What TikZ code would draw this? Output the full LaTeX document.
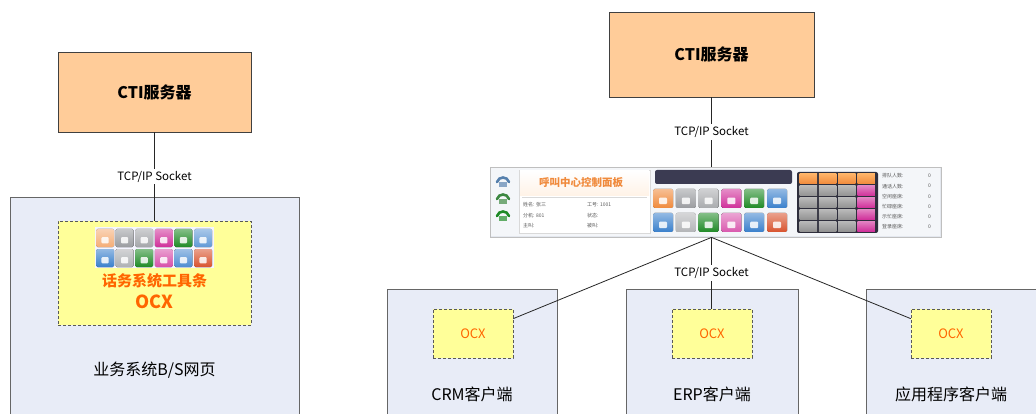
\documentclass[tikz,border=0pt]{standalone}
\usepackage{fontspec}
\setmainfont{Noto Sans CJK SC}
\usetikzlibrary{calc}

\definecolor{peach}{HTML}{FFCC99}
\definecolor{pagebg}{HTML}{E8ECF7}
\definecolor{ocxbg}{HTML}{FFFF99}
\definecolor{ocxtext}{HTML}{FF6600}
\definecolor{barbg}{HTML}{E4E8EF}
\definecolor{icOrange}{HTML}{F08A3C}
\definecolor{icGray}{HTML}{9A9CA0}
\definecolor{icMagenta}{HTML}{D0309A}
\definecolor{icGreen}{HTML}{1F8A26}
\definecolor{icBlue}{HTML}{3A80CC}
\definecolor{icRed}{HTML}{D8532E}
\definecolor{panelDark}{HTML}{2E2E3C}
\definecolor{barDark}{HTML}{3B3B52}

% one glossy toolbar button: x, y, width, height, colour
\newcommand\appicon[5]{%
  \colorlet{btnbase}{#5}%
  \fill[rounded corners=1.5pt, top color=btnbase!55!white, bottom color=btnbase] (#1,#2) rectangle ++(#3,#4);
  \fill[white, opacity=0.85, rounded corners=1pt] ($(#1,#2)+(0.3*#3,0.45*#4)$) rectangle ++(0.4*#3,0.35*#4);
}

\tikzset{
  server/.style={draw=black!75, fill=peach, line width=0.8pt, inner sep=0pt,
                 font=\bfseries\fontsize{16}{16}\selectfont},
  page/.style={draw=black!60, fill=pagebg, line width=0.8pt, inner sep=0pt},
  ocx/.style={draw=black!65, fill=ocxbg, line width=0.6pt, dash pattern=on 3pt off 2pt, inner sep=0pt},
  link/.style={draw=black!85, line width=0.8pt},
  proto/.style={font=\fontsize{11.5}{11.5}\selectfont, fill=white, inner sep=2pt},
  caption/.style={font=\fontsize{16}{16}\selectfont},
  ocxlabel/.style={text=ocxtext, font=\fontsize{13}{13}\selectfont},
  tiny/.style={anchor=west, text=black!65, font=\fontsize{5}{5}\selectfont, inner sep=0pt},
}

\begin{document}
\begin{tikzpicture}[x=1pt, y=-1pt]
\useasboundingbox[fill=white] (0,0) rectangle (1036,414);

% ---------------- left: web page with embedded toolbar control ----------------
\node[server, minimum width=193, minimum height=80] (ctiA) at (154.5,92) {CTI服务器};
\node[page, minimum width=289, minimum height=226] (web) at (154.5,310) {};
\node[ocx, minimum width=193, minimum height=104] (ocxA) at (154.5,273) {};

% toolbar button strip inside the control
\fill[blue!4] (95,227) rectangle (214,268);
\foreach \c [count=\i from 0] in {icOrange!70,icGray,icGray!90,icMagenta,icGreen,icBlue!80}{
  \appicon{96+\i*19.6}{229}{18}{18}{\c}
}
\foreach \c [count=\i from 0] in {icBlue,icGray!80,icGreen,icMagenta!85,icBlue!90,icRed}{
  \appicon{96+\i*19.6}{249}{18}{18}{\c}
}
\node[text=ocxtext, font=\bfseries\fontsize{15}{15}\selectfont] (tbA) at (154.5,281) {话务系统工具条};
\node[text=ocxtext, font=\bfseries\fontsize{18}{18}\selectfont] (ocxAtxt) at (154.5,302) {OCX};
\node[caption] (webtxt) at (154.5,370) {业务系统B/S网页};

\draw[link] (ctiA.south) -- node[proto] {TCP/IP Socket} (ocxA.north);

% ---------------- right: stand-alone toolbar and client programs ----------------
\node[server, minimum width=205, minimum height=85] (ctiB) at (711.5,54.5) {CTI服务器};

% toolbar panel
\node[draw=black!25, fill=barbg, line width=0.8pt, minimum width=451, minimum height=70, inner sep=0pt] (bar) at (715.5,202) {};
\fill[white!60!barbg] (491,168) rectangle (940,236);

% phone status icons
\foreach \yy/\c in {181/icBlue!60!gray, 198/icGreen!70!gray, 215/icGreen}{
  \colorlet{phonec}{\c}
  \draw[phonec, line width=2.6pt, line cap=round] (497,\yy+1) .. controls (499,\yy-5) and (507,\yy-5) .. (509,\yy+1);
  \fill[phonec!70] (499,\yy+1) rectangle (507,\yy+6);
}

% agent information panel
\draw[fill=white, draw=black!15] (519,170) rectangle (650,233);
\fill[top color=white, bottom color=orange!10] (520,171) rectangle (649,196);
\draw[black!15] (522,197) -- (647,197);
\node[text=icOrange, font=\bfseries\fontsize{10.5}{10.5}\selectfont] at (581,183) {呼叫中心控制面板};
\node[tiny] at (523,205) {姓名: 张三};
\node[tiny] at (587,205) {工号: 1001};
\node[tiny] at (523,216) {分机: 801};
\node[tiny] at (587,216) {状态:};
\node[tiny] at (523,226) {主叫:};
\node[tiny] at (587,226) {被叫:};

% call display and command buttons
\fill[barDark, rounded corners=2pt] (655,170) rectangle (792,184);
\foreach \c [count=\i from 0] in {icOrange,icGray,icGray!85,icMagenta,icGreen,icBlue}{
  \appicon{653+\i*22.8}{189}{20}{19}{\c}
}
\foreach \c [count=\i from 0] in {icBlue,icGray!75,icGreen,icMagenta!80,icBlue,icRed}{
  \appicon{653+\i*22.8}{213}{20}{19}{\c}
}

% queue status grid
\fill[panelDark, rounded corners=2pt] (797,172) rectangle (878,233);
\foreach \cc in {0,...,3}{
  \fill[top color=orange!60, bottom color=icOrange] (799.5+\cc*19.3,174) rectangle ++(17.5,10);
  \foreach \rr in {1,...,4}{
    \ifnum\cc=3
      \fill[top color=icMagenta!60, bottom color=icMagenta] (799.5+\cc*19.3,174+\rr*11.8) rectangle ++(17.5,10);
    \else
      \fill[top color=gray!55, bottom color=gray!85] (799.5+\cc*19.3,174+\rr*11.8) rectangle ++(17.5,10);
    \fi
  }
}
\foreach \t [count=\i from 0] in {排队人数:,通话人数:,空闲座席:,忙碌座席:,示忙座席:,登录座席:}{
  \node[tiny] at (882,176+\i*10.2) {\t};
  \node[tiny] at (928,176+\i*10.2) {0};
}

% client programs
\node[page, minimum width=170, minimum height=134] (crm) at (472,356) {};
\node[page, minimum width=172, minimum height=134] (erp) at (712,356) {};
\node[page, minimum width=180, minimum height=134] (app) at (956,356) {};
\node[ocx, minimum width=80, minimum height=49] (ocxC) at (473,333.5) {};
\node[ocx, minimum width=80, minimum height=49] (ocxE) at (712,333.5) {};
\node[ocx, minimum width=80, minimum height=49] (ocxP) at (951,333.5) {};
\node[ocxlabel] at (ocxC) {OCX};
\node[ocxlabel] at (ocxE) {OCX};
\node[ocxlabel] at (ocxP) {OCX};
\node[caption] (crmtxt) at (472,394) {CRM客户端};
\node[caption] (erptxt) at (712,394) {ERP客户端};
\node[caption] (apptxt) at (951,394) {应用程序客户端};

% connectors
\draw[link] (ctiB.south) -- node[proto] {TCP/IP Socket} (ctiB.south |- bar.north);
\coordinate (hub) at (ctiB.south |- bar.south);
\draw[link] (hub) -- ($(ocxC.north east)!0.2!(ocxC.south east)$);
\draw[link] (hub) -- ($(ocxP.north west)!0.2!(ocxP.south west)$);
\draw[link] (hub) -- node[proto] {TCP/IP Socket} (hub |- ocxE.north);
\end{tikzpicture}
\end{document}
